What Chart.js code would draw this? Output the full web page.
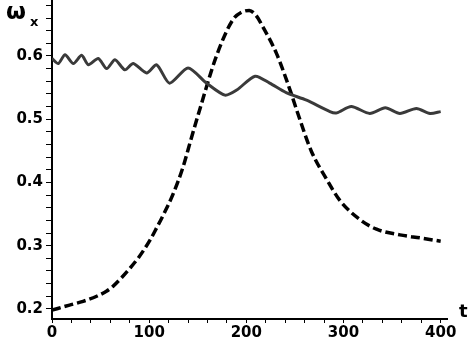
<!DOCTYPE html>
<html>
<head>
<meta charset="utf-8">
<script src="https://cdn.jsdelivr.net/npm/chart.js@4/dist/chart.umd.min.js"></script>
<style>
    body { margin: 0; background: #fff; }
</style>
</head>
<body>
<canvas id="chart" width="473" height="345"></canvas>
<script>
// dashed curve
const tDashed = [0, 18, 32, 46, 56, 63, 72, 80, 89, 101, 108, 115, 125, 135, 143, 152, 169, 186, 195, 203, 210, 217, 231, 245, 253, 267, 283, 296, 317, 334, 358, 380, 400];
const wDashed = [0.198, 0.206, 0.212, 0.220, 0.228, 0.236, 0.250, 0.264, 0.281, 0.309, 0.329, 0.350, 0.383, 0.425, 0.468, 0.515, 0.599, 0.657, 0.669, 0.672, 0.664, 0.646, 0.604, 0.546, 0.509, 0.449, 0.404, 0.372, 0.341, 0.326, 0.317, 0.312, 0.307];

// solid (oscillating) curve
const tSolid = [0, 6.5, 13.4, 22, 30.5, 37.4, 47.6, 56.3, 64.8, 75, 83.6, 97.4, 107.7, 121, 140, 159, 178, 190, 209, 224, 241, 262, 286, 293, 308, 327, 343, 358, 375, 389, 400];
const wSolid = [0.596, 0.588, 0.602, 0.588, 0.601, 0.586, 0.596, 0.580, 0.594, 0.578, 0.588, 0.573, 0.586, 0.557, 0.581, 0.557, 0.538, 0.546, 0.568, 0.557, 0.542, 0.530, 0.512, 0.510, 0.520, 0.509, 0.518, 0.509, 0.517, 0.509, 0.512];

// axes
const xTickValues = [0, 20, 40, 60, 80, 100, 120, 140, 160, 180, 200, 220, 240, 260, 280, 300, 320, 340, 360, 380, 400];
const xLabelValues = [0, 100, 200, 300, 400];
const xLabels = ["0", "100", "200", "300", "400"];
const yTickValues = [0.2, 0.22, 0.24, 0.26, 0.28, 0.3, 0.32, 0.34, 0.36, 0.38, 0.4, 0.42, 0.44, 0.46, 0.48, 0.5, 0.52, 0.54, 0.56, 0.58, 0.6, 0.62, 0.64, 0.66, 0.68];
const yLabelValues = [0.2, 0.3, 0.4, 0.5, 0.6];
const yLabels = ["0.2", "0.3", "0.4", "0.5", "0.6"];

function labelFor(v, values, labels) {
    const i = values.findIndex(x => Math.abs(x - v) < 1e-6);
    return i >= 0 ? labels[i] : "";
}

const tickFont = { family: "DejaVu Sans", weight: "bold", size: 15 };

const axisTitles = {
    id: "axisTitles",
    afterDraw(chart) {
        const c = chart.ctx;
        c.save();
        c.fillStyle = "#000";
        c.font = 'bold 23px "DejaVu Sans"';
        c.fillText("ω", 6, 19);
        c.font = 'bold 13px "DejaVu Sans"';
        c.fillText("x", 30, 26);
        c.font = 'bold 18px "DejaVu Sans"';
        c.fillText("t", 459, 317);
        c.restore();
    }
};

const ctx = document.getElementById("chart").getContext("2d");
new Chart(ctx, {
    type: "line",
    data: {
        datasets: [
            {
                data: tSolid.map((t, i) => ({ x: t, y: wSolid[i] })),
                borderColor: "#3a3a3a",
                borderWidth: 3,
                pointRadius: 0,
                tension: 0.25,
                fill: false
            },
            {
                data: tDashed.map((t, i) => ({ x: t, y: wDashed[i] })),
                borderColor: "#000",
                borderWidth: 3.5,
                borderDash: [9, 4],
                pointRadius: 0,
                cubicInterpolationMode: "monotone",
                fill: false
            }
        ]
    },
    options: {
        responsive: false,
        animation: false,
        layout: { padding: { left: 0, right: 26, top: 0, bottom: 0 } },
        plugins: { legend: { display: false }, tooltip: { enabled: false } },
        scales: {
            x: {
                type: "linear",
                min: 0,
                max: 406.5,
                afterBuildTicks: s => { s.ticks = xTickValues.map(v => ({ value: v })); },
                afterFit: s => { s.height = 26; s.paddingLeft = 0; s.paddingRight = 0; },
                grid: { drawOnChartArea: false, tickLength: 4, color: "#000", lineWidth: 1 },
                border: { color: "#000", width: 2 },
                ticks: {
                    autoSkip: false,
                    maxRotation: 0,
                    padding: 1,
                    color: "#000",
                    font: tickFont,
                    callback: v => labelFor(v, xLabelValues, xLabels)
                }
            },
            y: {
                type: "linear",
                min: 0.184,
                max: 0.6885,
                afterBuildTicks: s => { s.ticks = yTickValues.map(v => ({ value: v })); },
                afterFit: s => { s.width = 52; s.paddingTop = 0; s.paddingBottom = 0; },
                grid: { drawOnChartArea: false, tickLength: 6, color: "#000", lineWidth: 1 },
                border: { color: "#000", width: 2 },
                ticks: {
                    autoSkip: false,
                    padding: 3,
                    color: "#000",
                    font: tickFont,
                    callback: v => labelFor(v, yLabelValues, yLabels)
                }
            }
        }
    },
    plugins: [axisTitles]
});
</script>
</body>
</html>
